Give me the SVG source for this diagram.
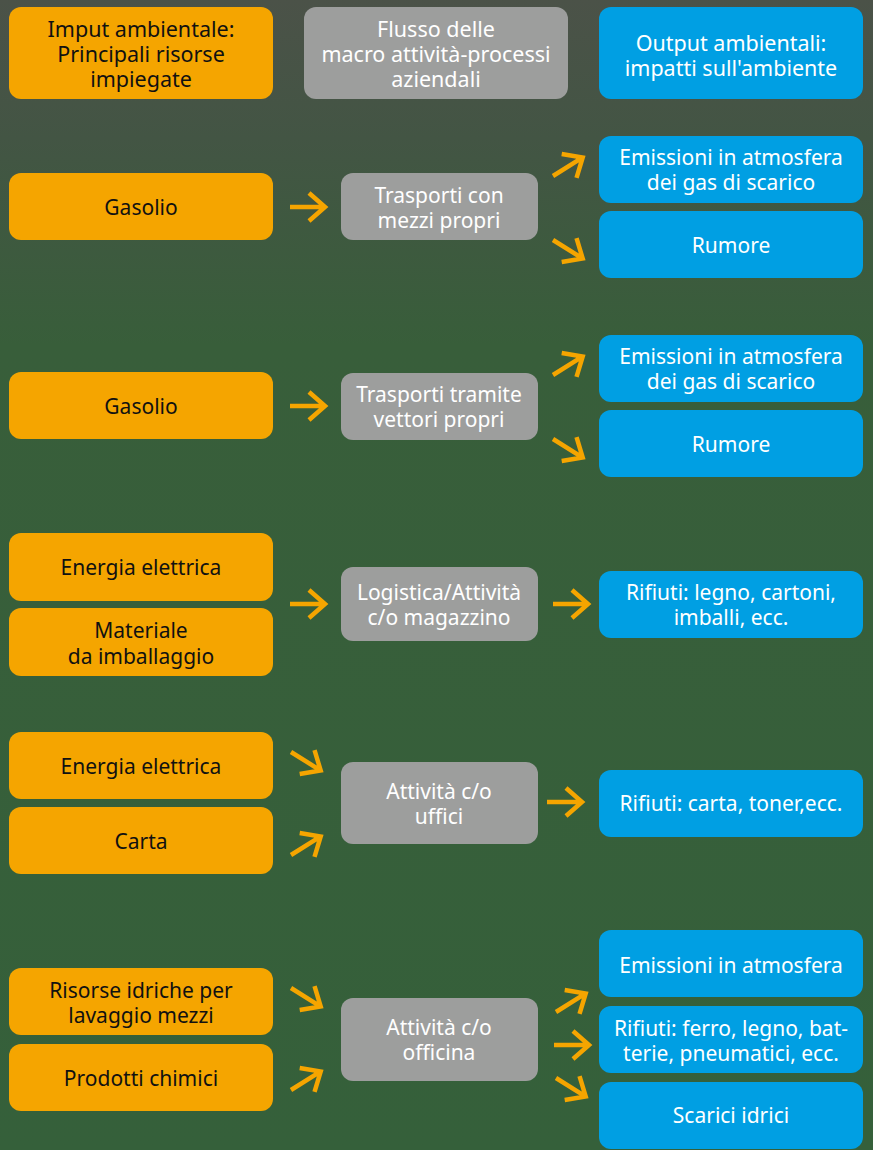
<svg xmlns="http://www.w3.org/2000/svg" xmlns:xlink="http://www.w3.org/1999/xlink" width="873" height="1150" viewBox="0 0 873 1150">
<style>
.o{fill:#F5A500}
.g{fill:#9D9E9D}
.b{fill:#009FE3}
text{font-family:"Noto Sans","Open Sans","Liberation Sans",sans-serif;font-size:21px;text-anchor:middle;dominant-baseline:central}
.tk{fill:#111}
.tw{fill:#fff}
.h{font-size:21.5px}
.arr{fill:none;stroke:#F5A500;stroke-width:4.5;stroke-linejoin:miter}
</style>
<defs>
<linearGradient id="bg" x1="0" y1="0" x2="0" y2="1">
<stop offset="0" stop-color="#4b5248"/>
<stop offset="0.12" stop-color="#435544"/>
<stop offset="0.3" stop-color="#385e3a"/>
<stop offset="1" stop-color="#35603a"/>
</linearGradient>
<path id="a" d="M0,0 H35 M19,-14 L35,0 L19,14"/>
</defs>
<rect width="873" height="1150" fill="url(#bg)"/>

<g id="header">
<g id="h1"><rect class="o" x="9" y="7" width="264" height="92" rx="12"/>
<text class="tk h" x="141" y="28">Imput ambientale:</text>
<text class="tk h" x="141" y="53">Principali risorse</text>
<text class="tk h" x="141" y="78">impiegate</text></g>
<g id="h2"><rect class="g" x="304" y="7" width="264" height="92" rx="12"/>
<text class="tw h" x="436" y="28">Flusso delle</text>
<text class="tw h" x="436" y="53">macro attività-processi</text>
<text class="tw h" x="436" y="78">aziendali</text></g>
<g id="h3"><rect class="b" x="599" y="7" width="264" height="92" rx="12"/>
<text class="tw h" x="731" y="42">Output ambientali:</text>
<text class="tw h" x="731" y="67">impatti sull'ambiente</text></g>
</g>

<g id="s1">
<g id="s1in"><rect class="o" x="9" y="173" width="264" height="67" rx="12"/><text class="tk" x="141" y="207">Gasolio</text></g>
<g id="s1p"><rect class="g" x="341" y="173" width="197" height="67" rx="12"/><text class="tw" x="439" y="195">Trasporti con</text><text class="tw" x="439" y="220">mezzi propri</text></g>
<g id="s1o1"><rect class="b" x="599" y="136" width="264" height="67" rx="12"/><text class="tw" x="731" y="157">Emissioni in atmosfera</text><text class="tw" x="731" y="182">dei gas di scarico</text></g>
<g id="s1o2"><rect class="b" x="599" y="211" width="264" height="67" rx="12"/><text class="tw" x="731" y="245">Rumore</text></g>
</g>

<g id="s2">
<g id="s2in"><rect class="o" x="9" y="372" width="264" height="67" rx="12"/><text class="tk" x="141" y="406">Gasolio</text></g>
<g id="s2p"><rect class="g" x="341" y="373" width="197" height="67" rx="12"/><text class="tw" x="439" y="394">Trasporti tramite</text><text class="tw" x="439" y="419">vettori propri</text></g>
<g id="s2o1"><rect class="b" x="599" y="335" width="264" height="67" rx="12"/><text class="tw" x="731" y="356">Emissioni in atmosfera</text><text class="tw" x="731" y="381">dei gas di scarico</text></g>
<g id="s2o2"><rect class="b" x="599" y="410" width="264" height="67" rx="12"/><text class="tw" x="731" y="444">Rumore</text></g>
</g>

<g id="s3">
<g id="s3in1"><rect class="o" x="9" y="533" width="264" height="68" rx="12"/><text class="tk" x="141" y="567">Energia elettrica</text></g>
<g id="s3in2"><rect class="o" x="9" y="608" width="264" height="68" rx="12"/><text class="tk" x="141" y="630">Materiale</text><text class="tk" x="141" y="656">da imballaggio</text></g>
<g id="s3p"><rect class="g" x="341" y="567" width="197" height="74" rx="12"/><text class="tw" x="439" y="592">Logistica/Attività</text><text class="tw" x="439" y="617">c/o magazzino</text></g>
<g id="s3o"><rect class="b" x="599" y="571" width="264" height="67" rx="12"/><text class="tw" x="731" y="592">Rifiuti: legno, cartoni,</text><text class="tw" x="731" y="617">imballi, ecc.</text></g>
</g>

<g id="s4">
<g id="s4in1"><rect class="o" x="9" y="732" width="264" height="67" rx="12"/><text class="tk" x="141" y="766">Energia elettrica</text></g>
<g id="s4in2"><rect class="o" x="9" y="807" width="264" height="67" rx="12"/><text class="tk" x="141" y="841">Carta</text></g>
<g id="s4p"><rect class="g" x="341" y="762" width="197" height="82" rx="12"/><text class="tw" x="439" y="791">Attività c/o</text><text class="tw" x="439" y="816">uffici</text></g>
<g id="s4o"><rect class="b" x="599" y="770" width="264" height="67" rx="12"/><text class="tw" x="731" y="803">Rifiuti: carta, toner,ecc.</text></g>
</g>

<g id="s5">
<g id="s5in1"><rect class="o" x="9" y="968" width="264" height="67" rx="12"/><text class="tk" x="141" y="990">Risorse idriche per</text><text class="tk" x="141" y="1015">lavaggio mezzi</text></g>
<g id="s5in2"><rect class="o" x="9" y="1044" width="264" height="67" rx="12"/><text class="tk" x="141" y="1078">Prodotti chimici</text></g>
<g id="s5p"><rect class="g" x="341" y="998" width="197" height="83" rx="12"/><text class="tw" x="439" y="1027">Attività c/o</text><text class="tw" x="439" y="1052">officina</text></g>
<g id="s5o1"><rect class="b" x="599" y="930" width="264" height="67" rx="12"/><text class="tw" x="731" y="965">Emissioni in atmosfera</text></g>
<g id="s5o2"><rect class="b" x="599" y="1006" width="264" height="67" rx="12"/><text class="tw" x="731" y="1028">Rifiuti: ferro, legno, bat-</text><text class="tw" x="731" y="1053">terie, pneumatici, ecc.</text></g>
<g id="s5o3"><rect class="b" x="599" y="1082" width="264" height="67" rx="12"/><text class="tw" x="731" y="1115">Scarici idrici</text></g>
</g>

<g id="connectors" class="arr">
<use xlink:href="#a" transform="translate(290,207)"/>
<use xlink:href="#a" transform="translate(553,176) rotate(-32)"/>
<use xlink:href="#a" transform="translate(553,240) rotate(32)"/>
<use xlink:href="#a" transform="translate(290,406)"/>
<use xlink:href="#a" transform="translate(553,375) rotate(-32)"/>
<use xlink:href="#a" transform="translate(553,439) rotate(32)"/>
<use xlink:href="#a" transform="translate(290,604)"/>
<use xlink:href="#a" transform="translate(553,604)"/>
<use xlink:href="#a" transform="translate(291,752) rotate(32)"/>
<use xlink:href="#a" transform="translate(291,855) rotate(-32)"/>
<use xlink:href="#a" transform="translate(547,802)"/>
<use xlink:href="#a" transform="translate(291,988) rotate(32)"/>
<use xlink:href="#a" transform="translate(291,1090) rotate(-32)"/>
<use xlink:href="#a" transform="translate(556,1012) rotate(-32)"/>
<use xlink:href="#a" transform="translate(554,1045)"/>
<use xlink:href="#a" transform="translate(556,1078) rotate(32)"/>
</g>
</svg>
